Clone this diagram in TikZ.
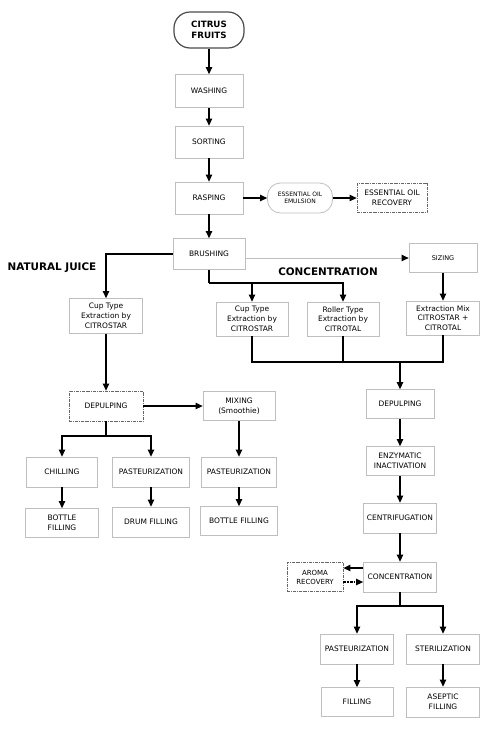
\documentclass[tikz,border=0pt]{standalone}
\usepackage{fontspec}
\setmainfont{DejaVu Sans}
\usetikzlibrary{arrows.meta}

\begin{document}
\begin{tikzpicture}[x=1pt,y=-1pt,
    stage/.style={draw=black!25, line width=0.8pt, fill=white, minimum width=72pt,
      minimum height=30pt, align=center, inner sep=1pt, font=\fontsize{7.5}{9.8}\selectfont},
    dstage/.style={stage, draw=black!60, densely dashdotted},
    pill/.style={stage, rounded corners=13pt},
    wire/.style={line width=1.2pt},
    flow/.style={wire, -{Triangle[length=7pt,width=6.5pt,black]}},
    heading/.style={font=\fontsize{10.4}{12}\bfseries\selectfont}]
  \useasboundingbox (0,0) rectangle (500,734);

  \node[pill, draw=black!70, line width=1.2pt, minimum width=70pt, minimum height=36pt,
    rounded corners=16pt, font=\fontsize{8.7}{10.5}\bfseries\selectfont] (fruits) at (209,30) {CITRUS\\FRUITS};
  \node[stage, minimum width=68pt, minimum height=33pt] (wash) at (209,91) {WASHING};
  \node[stage, minimum width=68pt, minimum height=32pt] (sort) at (209,142) {SORTING};
  \node[stage, minimum width=68pt, minimum height=32pt] (rasp) at (209,198) {RASPING};
  \node[pill, minimum width=65pt, font=\fontsize{6}{7.5}\selectfont] (emul) at (300,198) {ESSENTIAL OIL\\EMULSION};
  \node[dstage, minimum width=70pt, minimum height=29pt] (oilrec) at (392,198) {ESSENTIAL OIL\\RECOVERY};
  \node[stage, minimum height=31pt] (brush) at (209,254) {BRUSHING};
  \node[stage, minimum width=68pt, minimum height=29pt, font=\fontsize{6.5}{8}\selectfont] (sizing) at (443,258) {SIZING};

  \node[heading] (njlabel) at (52,268) {NATURAL JUICE};
  \node[heading] (cclabel) at (328,272) {CONCENTRATION};

  % natural juice
  \node[stage, minimum width=73pt, minimum height=35pt] (njcup) at (106,316) {Cup Type\\Extraction by\\CITROSTAR};
  \node[dstage, minimum width=74pt] (njdep) at (106,406) {DEPULPING};
  \node[stage, minimum height=29pt] (mix) at (239,406) {MIXING\\(Smoothie)};
  \node[stage, minimum width=71pt] (chill) at (62,472) {CHILLING};
  \node[stage, minimum width=77pt] (past1) at (151,472) {PASTEURIZATION};
  \node[stage, minimum width=75pt] (past2) at (239,472) {PASTEURIZATION};
  \node[stage, minimum width=73pt, minimum height=29pt] (bottle1) at (62,523) {BOTTLE\\FILLING};
  \node[stage, minimum width=77pt] (drum) at (151,522) {DRUM FILLING};
  \node[stage, minimum width=77pt, minimum height=29pt] (bottle2) at (239,521) {BOTTLE FILLING};

  % concentration
  \node[stage, minimum height=34pt] (ccup) at (252,319) {Cup Type\\Extraction by\\CITROSTAR};
  \node[stage, minimum height=34pt] (roller) at (343,319) {Roller Type\\Extraction by\\CITROTAL};
  \node[stage, minimum width=73pt, minimum height=34pt] (extmix) at (443,318) {Extraction Mix\\CITROSTAR +\\CITROTAL};
  \node[stage, minimum width=68pt, minimum height=29pt] (cdep) at (400,404) {DEPULPING};
  \node[stage, minimum width=68pt, minimum height=29pt] (enzym) at (400,461) {ENZYMATIC\\INACTIVATION};
  \node[stage, minimum width=73pt] (centrif) at (400,518) {CENTRIFUGATION};
  \node[stage, minimum width=73pt] (conc) at (400,577) {CONCENTRATION};
  \node[dstage, minimum width=56pt, minimum height=29pt, font=\fontsize{7}{9}\selectfont] (aroma) at (315,577) {AROMA\\RECOVERY};
  \node[stage, minimum width=73pt] (cpast) at (357,649) {PASTEURIZATION};
  \node[stage, minimum width=73pt] (steril) at (443,649) {STERILIZATION};
  \node[stage, minimum height=29pt] (cfill) at (357,702) {FILLING};
  \node[stage, minimum width=73pt] (aseptic) at (443,702) {ASEPTIC\\FILLING};

  \coordinate (bsplit) at (209,283);
  \coordinate (njsplit) at (106,436);
  \coordinate (cjoin) at (400,362);
  \coordinate (csplit) at (400,606);
  \path ([yshift=9pt]conc.west) coordinate (cw1) ([yshift=-5pt]conc.west) coordinate (cw2);

  \draw[flow] (fruits) -- (wash);
  \draw[flow] (wash) -- (sort);
  \draw[flow] (sort) -- (rasp);
  \draw[flow] (rasp) -- (emul);
  \draw[flow] (emul) -- (oilrec);
  \draw[flow] (rasp) -- (brush);
  \draw[flow] (brush.west) -| (njcup);
  \draw[flow, draw=black!25, line width=0.9pt] (brush.east |- sizing.west) -- (sizing.west);
  \draw[wire] (brush) -- (bsplit);
  \draw[flow] (bsplit) -| (ccup);
  \draw[flow] (bsplit) -| (roller);
  \draw[flow] (sizing) -- (extmix);

  \draw[flow] (njcup) -- (njdep);
  \draw[flow] (njdep) -- (mix);
  \draw[wire] (njdep) -- (njsplit);
  \draw[flow] (njsplit) -| (chill);
  \draw[flow] (njsplit) -| (past1);
  \draw[flow] (mix) -- (past2);
  \draw[flow] (chill) -- (bottle1);
  \draw[flow] (past1) -- (drum);
  \draw[flow] (past2) -- (bottle2);

  \draw[wire] (ccup) |- (cjoin);
  \draw[wire] (extmix) |- (cjoin);
  \draw[wire] (roller) -- (roller |- cjoin);
  \draw[flow] (cjoin) -- (cdep);
  \draw[flow] (cdep) -- (enzym);
  \draw[flow] (enzym) -- (centrif);
  \draw[flow] (centrif) -- (conc);
  \draw[flow] (cw1) -- (cw1 -| aroma.east);
  \draw[flow, densely dashdotted] (cw2 -| aroma.east) -- (cw2);
  \draw[wire] (conc) -- (csplit);
  \draw[flow] (csplit) -| (cpast);
  \draw[flow] (csplit) -| (steril);
  \draw[flow] (cpast) -- (cfill);
  \draw[flow] (steril) -- (aseptic);
\end{tikzpicture}
\end{document}
